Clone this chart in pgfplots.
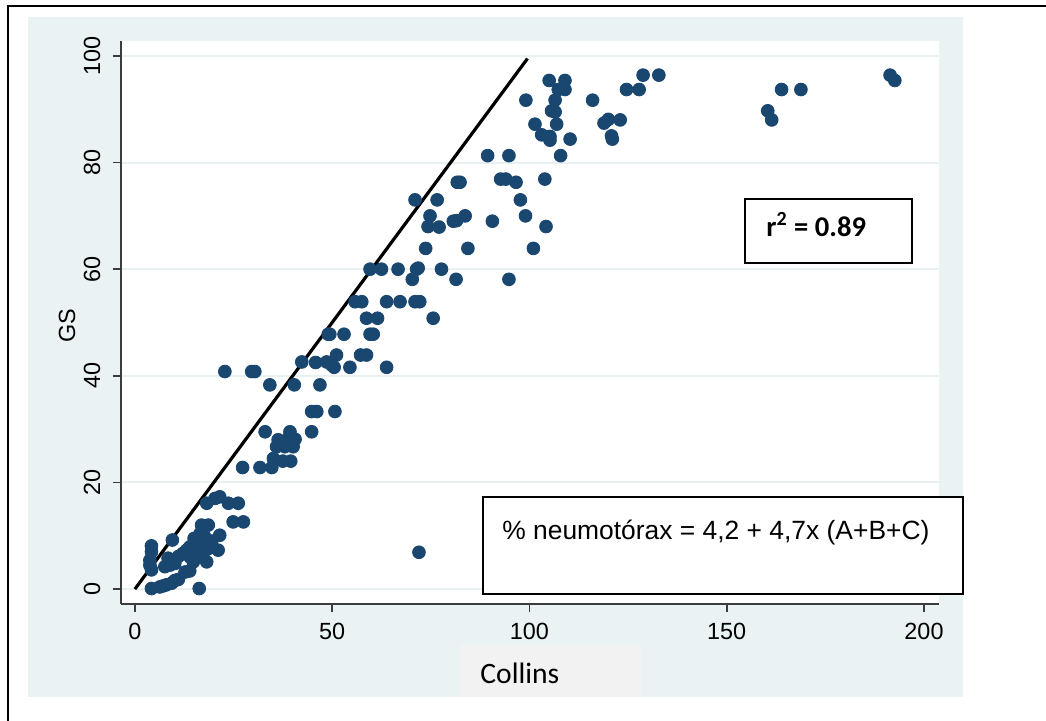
\documentclass[border=0pt]{standalone}
\usepackage{pgfplots}
\pgfplotsset{compat=1.18}
\usepackage{fontspec}
\setmainfont{Liberation Sans}
\newfontfamily\carlito{Carlito}
\definecolor{stnavy}{RGB}{26,71,111}
\definecolor{stbg}{RGB}{234,242,243}
\definecolor{stgrid}{RGB}{232,240,242}
\definecolor{staxis}{RGB}{60,60,60}
\definecolor{collbox}{RGB}{242,242,242}
\begin{document}
\begin{tikzpicture}
\useasboundingbox (0,0) rectangle (523pt,360pt);
% background region
\fill[stbg] (14pt,11.5pt) rectangle (481.5pt,351.5pt);
% outer border
\draw[black, line width=0.9pt] (4pt,-2pt) -- (4pt,357pt) -- (530pt,357pt);
\begin{axis}[
  at={(60.35pt,58pt)}, anchor=south west,
  scale only axis, width=409.15pt, height=281.5pt,
  xmin=-3.6, xmax=203.8, ymin=-2.8, ymax=102.8,
  axis x line*=bottom, axis y line*=left,
  axis line style={staxis, line width=0.8pt, -},
  axis background/.style={fill=white},
  xtick={0,50,100,150,200}, ytick={0,20,40,60,80,100},
  tick align=outside, major tick length=4pt,
  tick style={staxis, line width=0.8pt},
  ymajorgrids, grid style={stgrid, line width=1pt},
  ticklabel style={font=\fontsize{11.7}{14}\selectfont},
  /pgf/number format/assume math mode=true,
  xticklabel style={anchor=north, inner sep=0pt},
  yticklabel style={rotate=90, anchor=south, inner sep=0pt},
  xticklabel shift=5.5pt, yticklabel shift=6pt,
  clip=false,
]
\addplot[only marks, mark=*, mark size=3.2pt, color=stnavy, mark options={fill=stnavy, draw=stnavy}] table {
x y
4.2 0.1
6.3 0.4
7.2 0.6
8.0 0.8
9.3 1.1
10.1 1.6
11.0 1.8
16.3 0.1
4.2 8.1
4.2 7.0
3.8 5.4
3.8 4.5
4.2 3.6
9.5 9.2
7.6 4.2
8.9 4.5
10.1 4.8
8.4 5.8
11.0 6.1
12.2 6.7
13.1 7.3
13.9 7.9
14.8 8.3
15.6 8.6
12.7 3.2
13.9 3.4
14.8 5.1
18.2 5.1
16.9 12.0
18.6 12.0
16.5 10.4
17.7 9.8
18.2 8.6
18.6 7.6
17.3 6.7
16.1 6.1
15.0 9.5
19.5 9.0
14.0 6.0
21.5 10.1
21.1 7.3
20.3 17.0
21.5 17.3
23.7 16.1
26.2 16.1
18.2 16.1
24.9 12.6
27.5 12.6
27.3 22.8
31.7 22.8
34.7 22.8
35.1 24.5
35.9 26.7
37.5 24.0
39.5 24.0
22.8 40.8
29.6 40.8
30.4 40.8
34.2 38.3
40.4 38.3
42.3 42.6
45.8 42.5
46.9 38.3
49.0 47.8
49.4 47.8
53.0 47.8
48.6 42.6
49.9 42.0
50.5 41.6
51.1 43.9
54.5 41.6
57.2 43.9
58.7 43.9
63.8 41.6
58.7 50.8
61.5 50.8
59.6 47.8
60.4 47.8
55.8 53.9
57.5 53.9
63.8 53.9
67.2 53.9
59.6 60.0
62.5 60.0
66.7 60.0
44.8 33.3
46.1 33.3
50.7 33.3
33.0 29.5
39.3 29.5
44.8 29.5
36.3 28.0
38.9 28.3
40.6 28.1
38.0 26.7
40.1 26.7
103.1 85.2
105.2 84.9
105.2 84.2
110.3 84.4
89.4 81.3
94.8 81.3
107.9 81.3
81.7 76.3
82.4 76.3
92.7 76.9
94.0 76.9
96.6 76.3
103.9 76.9
71.0 73.0
76.6 73.0
97.7 73.0
74.8 70.0
74.3 68.0
77.1 67.9
80.7 69.0
81.5 69.1
83.7 70.0
90.6 69.0
99.0 70.0
104.2 68.0
73.7 63.9
84.4 63.9
101.0 63.9
71.4 60.0
71.8 60.2
70.3 58.1
77.7 60.0
81.4 58.1
94.8 58.1
71.0 53.9
72.2 53.9
75.6 50.8
105.0 95.4
109.0 95.4
107.3 93.7
109.0 93.7
124.6 93.7
127.8 93.7
99.1 91.7
106.5 91.7
116.0 91.7
105.6 89.7
106.5 89.5
101.4 87.2
106.9 87.2
118.9 87.4
120.0 88.1
123.0 88.0
120.8 85.0
121.0 84.4
128.8 96.4
132.8 96.4
160.4 89.7
161.4 88.0
163.9 93.7
168.8 93.7
191.4 96.4
192.6 95.4
72.0 6.9
};
\addplot[black, line width=1.6pt, no marks] coordinates {(0,0) (99.5,99.5)};
\end{axis}
% y label
\node[rotate=90, font=\fontsize{11.7}{14}\selectfont] at (33.5pt,197pt) {GS};
% Collins label box
\fill[collbox] (230pt,11.5pt) rectangle (320.5pt,37.5pt);
\node[anchor=base west, inner sep=0pt, font=\carlito\fontsize{14.8}{18}\selectfont] at (240pt,18.5pt) {Collins};
% equation box
\draw[black, line width=0.7pt, fill=white] (241.5pt,63pt) rectangle (481.5pt,111.5pt);
\node[anchor=base west, inner sep=0pt, font=\fontsize{13.2}{16}\selectfont] at (251pt,90.5pt) {\% neumotórax = 4,2 + 4,7x (A+B+C)};
% r^2 box
\draw[black, line width=0.6pt, fill=white] (372.5pt,228.5pt) rectangle (456pt,260.5pt);
\node[anchor=base west, inner sep=0pt, font=\carlito\bfseries\fontsize{14.3}{17}\selectfont] at (383pt,242pt) {r\textsuperscript{2} = 0.89};
\end{tikzpicture}
\end{document}
